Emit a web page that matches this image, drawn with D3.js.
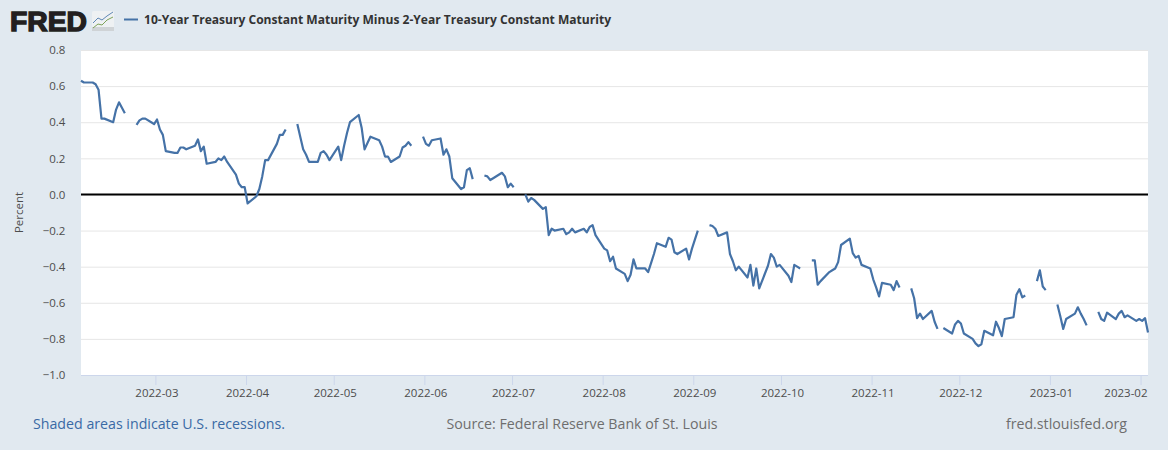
<!DOCTYPE html>
<html>
<head>
<meta charset="utf-8">
<script src="https://cdn.jsdelivr.net/npm/d3@7"></script>
<style>
html,body{margin:0;padding:0;background:#e1e9f0;}
svg{display:block;}
text{font-family:"Open Sans","Noto Sans",sans-serif;}
</style>
</head>
<body>
<svg id="chart" width="1168" height="450"></svg>
<script>
const seriesName = "10-Year Treasury Constant Maturity Minus 2-Year Treasury Constant Maturity";
const yTicks = [0.8,0.6,0.4,0.2,0,-0.2,-0.4,-0.6,-0.8,-1.0];
const xTicks = ["2022-03","2022-04","2022-05","2022-06","2022-07","2022-08","2022-09","2022-10","2022-11","2022-12","2023-01","2023-02"];
const dates = [
"2022-02-03","2022-02-04","2022-02-07","2022-02-08","2022-02-09","2022-02-10","2022-02-11","2022-02-14","2022-02-15","2022-02-16","2022-02-17","2022-02-18",
"2022-02-21","2022-02-22","2022-02-23","2022-02-24","2022-02-25","2022-02-28",
"2022-03-01","2022-03-02","2022-03-03","2022-03-04","2022-03-07","2022-03-08","2022-03-09","2022-03-10","2022-03-11","2022-03-14","2022-03-15","2022-03-16","2022-03-17","2022-03-18","2022-03-21","2022-03-22","2022-03-23","2022-03-24","2022-03-25","2022-03-28","2022-03-29","2022-03-30","2022-03-31",
"2022-04-01","2022-04-04","2022-04-05","2022-04-06","2022-04-07","2022-04-08","2022-04-11","2022-04-12","2022-04-13","2022-04-14","2022-04-15","2022-04-18","2022-04-19","2022-04-20","2022-04-21","2022-04-22","2022-04-25","2022-04-26","2022-04-27","2022-04-28","2022-04-29",
"2022-05-02","2022-05-03","2022-05-04","2022-05-05","2022-05-06","2022-05-09","2022-05-10","2022-05-11","2022-05-12","2022-05-13","2022-05-16","2022-05-17","2022-05-18","2022-05-19","2022-05-20","2022-05-23","2022-05-24","2022-05-25","2022-05-26","2022-05-27","2022-05-30","2022-05-31",
"2022-06-01","2022-06-02","2022-06-03","2022-06-06","2022-06-07","2022-06-08","2022-06-09","2022-06-10","2022-06-13","2022-06-14","2022-06-15","2022-06-16","2022-06-17","2022-06-20","2022-06-21","2022-06-22","2022-06-23","2022-06-24","2022-06-27","2022-06-28","2022-06-29","2022-06-30",
"2022-07-01","2022-07-04","2022-07-05","2022-07-06","2022-07-07","2022-07-08","2022-07-11","2022-07-12","2022-07-13","2022-07-14","2022-07-15","2022-07-18","2022-07-19","2022-07-20","2022-07-21","2022-07-22","2022-07-25","2022-07-26","2022-07-27","2022-07-28","2022-07-29",
"2022-08-01","2022-08-02","2022-08-03","2022-08-04","2022-08-05","2022-08-08","2022-08-09","2022-08-10","2022-08-11","2022-08-12","2022-08-15","2022-08-16","2022-08-17","2022-08-18","2022-08-19","2022-08-22","2022-08-23","2022-08-24","2022-08-25","2022-08-26","2022-08-29","2022-08-30","2022-08-31",
"2022-09-01","2022-09-02","2022-09-05","2022-09-06","2022-09-07","2022-09-08","2022-09-09","2022-09-12","2022-09-13","2022-09-14","2022-09-15","2022-09-16","2022-09-19","2022-09-20","2022-09-21","2022-09-22","2022-09-23","2022-09-26","2022-09-27","2022-09-28","2022-09-29","2022-09-30",
"2022-10-03","2022-10-04","2022-10-05","2022-10-06","2022-10-07","2022-10-10","2022-10-11","2022-10-12","2022-10-13","2022-10-14","2022-10-17","2022-10-18","2022-10-19","2022-10-20","2022-10-21","2022-10-24","2022-10-25","2022-10-26","2022-10-27","2022-10-28","2022-10-31",
"2022-11-01","2022-11-02","2022-11-03","2022-11-04","2022-11-07","2022-11-08","2022-11-09","2022-11-10","2022-11-11","2022-11-14","2022-11-15","2022-11-16","2022-11-17","2022-11-18","2022-11-21","2022-11-22","2022-11-23","2022-11-24","2022-11-25","2022-11-28","2022-11-29","2022-11-30",
"2022-12-01","2022-12-02","2022-12-05","2022-12-06","2022-12-07","2022-12-08","2022-12-09","2022-12-12","2022-12-13","2022-12-14","2022-12-15","2022-12-16","2022-12-19","2022-12-20","2022-12-21","2022-12-22","2022-12-23","2022-12-26","2022-12-27","2022-12-28","2022-12-29","2022-12-30",
"2023-01-02","2023-01-03","2023-01-04","2023-01-05","2023-01-06","2023-01-09","2023-01-10","2023-01-11","2023-01-12","2023-01-13","2023-01-16","2023-01-17","2023-01-18","2023-01-19","2023-01-20","2023-01-23","2023-01-24","2023-01-25","2023-01-26","2023-01-27","2023-01-30","2023-01-31",
"2023-02-01","2023-02-02","2023-02-03"
];
const spread = [
.63,.62,.62,.61,.58,.42,.42,.40,.47,.51,.48,.45,
null,.385,.41,.42,.42,.39,
.415,.36,.33,.24,.23,.23,.26,.26,.25,.27,.305,.24,.265,.17,.18,.20,.19,.21,.18,.11,.06,.04,.04,
-.05,-.01,.03,.10,.19,.19,.28,.33,.33,.36,null,.39,.32,.25,.22,.18,.18,.23,.24,.22,.19,
.265,.19,.27,.34,.40,.44,.37,.25,.285,.32,.30,.265,.21,.21,.18,.21,.26,.27,.29,.27,null,.32,
.28,.27,.30,.31,.22,.25,.21,.09,.03,.04,.135,.145,.085,null,.105,.10,.08,.09,.12,.10,.04,.06,
.04,null,0,-.04,-.02,-.03,-.08,-.07,-.225,-.19,-.20,-.19,-.22,-.21,-.19,-.21,-.19,-.21,-.18,-.17,-.225,
-.30,-.31,-.37,-.345,-.41,-.44,-.48,-.445,-.36,-.41,-.41,-.43,-.38,-.33,-.27,-.29,-.24,-.25,-.32,-.33,-.30,-.36,-.30,
-.25,-.20,null,-.17,-.175,-.19,-.23,-.21,-.33,-.37,-.42,-.40,-.46,-.39,-.505,-.41,-.52,-.395,-.33,-.35,-.40,-.39,
-.45,-.485,-.39,-.40,-.41,null,-.365,-.365,-.50,-.48,-.43,-.42,-.41,-.375,-.28,-.245,-.325,-.35,-.34,-.39,-.41,
-.47,-.515,-.565,-.49,-.50,-.53,-.48,-.515,null,-.52,-.575,-.685,-.66,-.69,-.645,-.705,-.745,null,-.74,-.77,-.72,-.70,
-.715,-.77,-.80,-.825,-.84,-.83,-.755,-.78,-.705,-.74,-.785,-.69,-.68,-.555,-.525,-.57,-.56,null,-.48,-.42,-.51,-.53,
null,-.61,-.675,-.745,-.69,-.66,-.625,-.66,-.69,-.725,null,-.65,-.69,-.70,-.655,-.69,-.66,-.645,-.68,-.67,-.70,-.69,
-.70,-.685,-.765
];

const W = 1168, H = 450;
const plot = {left:81, right:1148, top:50, bottom:375};
const parseDay = d3.utcParse("%Y-%m-%d");
const parseMonth = d3.utcParse("%Y-%m");
const svg = d3.select("#chart");

svg.append("rect").attr("width",W).attr("height",H).attr("fill","#e1e9f0");
svg.append("rect").attr("x",plot.left).attr("y",plot.top)
  .attr("width",plot.right-plot.left).attr("height",plot.bottom-plot.top).attr("fill","#ffffff");

const x = d3.scaleUtc().domain([parseDay("2022-02-03"),parseDay("2023-02-03")]).range([plot.left,plot.right]);
const xAxisScale = x.copy().range([plot.left-1.6,plot.right-1.6]);
const y = d3.scaleLinear().domain([-1,0.8]).range([plot.bottom,plot.top]);

// horizontal grid lines and value labels
const yAxis = svg.append("g").attr("transform",`translate(${plot.left},0)`)
  .call(d3.axisLeft(y).tickValues(yTicks).tickSize(-(plot.right-plot.left)).tickPadding(15).tickFormat(d3.format(".1f")));
yAxis.select(".domain").remove();
yAxis.selectAll("line").attr("stroke","#e6e6e6").attr("stroke-width",1);
yAxis.selectAll("text").attr("fill","#4d4d4d").attr("dx",-0.6).style("font-size","11.5px").style("font-family",'"Open Sans",sans-serif');

// time axis
const xAxis = svg.append("g").attr("transform",`translate(0,${plot.bottom})`)
  .call(d3.axisBottom(xAxisScale).tickValues(xTicks.map(parseMonth)).tickSize(10).tickPadding(4).tickFormat(d3.utcFormat("%Y-%m")));
xAxis.select(".domain").remove();
xAxis.selectAll("line").attr("stroke","#ccd6eb");
xAxis.selectAll("text").attr("fill","#4d4d4d").style("font-size","11.5px").style("font-family",'"Open Sans",sans-serif').attr("dx",1);
// the last label is pulled back inside the plot
xAxis.selectAll(".tick:last-of-type text").attr("text-anchor","end").attr("x",plot.right-1-xAxisScale(parseMonth("2023-02"))).attr("dx",0);
svg.append("line").attr("x1",plot.left).attr("x2",plot.right).attr("y1",plot.bottom+0.5).attr("y2",plot.bottom+0.5).attr("stroke","#ccd6eb");

// zero line
svg.append("line").attr("x1",plot.left).attr("x2",plot.right).attr("y1",y(0)).attr("y2",y(0)).attr("stroke","#000").attr("stroke-width",2);

// data line, broken at market holidays
const rows = dates.map((d,i)=>({date:parseDay(d),value:spread[i]}));
const line = d3.line().defined(d=>d.value!==null).x(d=>x(d.date)).y(d=>y(d.value));
svg.append("path").datum(rows).attr("d",line).attr("fill","none")
  .attr("stroke","#4572a7").attr("stroke-width",2.2).attr("stroke-linejoin","round");

// axis title
svg.append("text").attr("transform","translate(23,212.5) rotate(-90)").attr("text-anchor","middle")
  .attr("fill","#4d4d4d").style("font-size","11.5px").text("Percent");

// header
svg.append("text").attr("x",10).attr("y",31).attr("fill","#231f20")
  .style("font-family",'"Liberation Sans",Arial,sans-serif').style("font-weight",900)
  .style("font-size","28px").style("stroke","#231f20").style("stroke-width","1.4px")
  .attr("textLength",77).attr("lengthAdjust","spacingAndGlyphs").text("FRED");
const icon = svg.append("g").attr("transform","translate(92,11)");
icon.append("rect").attr("width",22).attr("height",20).attr("rx",1.5).attr("fill","#eef1f3");
icon.append("rect").attr("y",16).attr("width",22).attr("height",4).attr("fill","#cfd3d6");
icon.append("polyline").attr("points","1,12 6,7 10,9 15,5 21,1").attr("fill","none").attr("stroke","#5f87b5").attr("stroke-width",1);
icon.append("polyline").attr("points","1,17 6,13 10,14 15,9 21,6").attr("fill","none").attr("stroke","#7ea35a").attr("stroke-width",1);
svg.append("line").attr("x1",124).attr("x2",138).attr("y1",19.5).attr("y2",19.5).attr("stroke","#4572a7").attr("stroke-width",2);
svg.append("text").attr("x",144).attr("y",24).attr("fill","#333333").style("font-size","12px").style("font-weight",700)
  .attr("textLength",467).attr("lengthAdjust","spacingAndGlyphs").text(seriesName);

// footer
svg.append("text").attr("x",33).attr("y",429).attr("fill","#3a6aa5").style("font-size","14.2px").text("Shaded areas indicate U.S. recessions.");
svg.append("text").attr("x",582).attr("y",429).attr("text-anchor","middle").attr("fill","#6e6e6e").style("font-size","14.2px").text("Source: Federal Reserve Bank of St. Louis");
svg.append("text").attr("x",1127).attr("y",429).attr("text-anchor","end").attr("fill","#6e6e6e").style("font-size","14.2px").text("fred.stlouisfed.org");
</script>
</body>
</html>
